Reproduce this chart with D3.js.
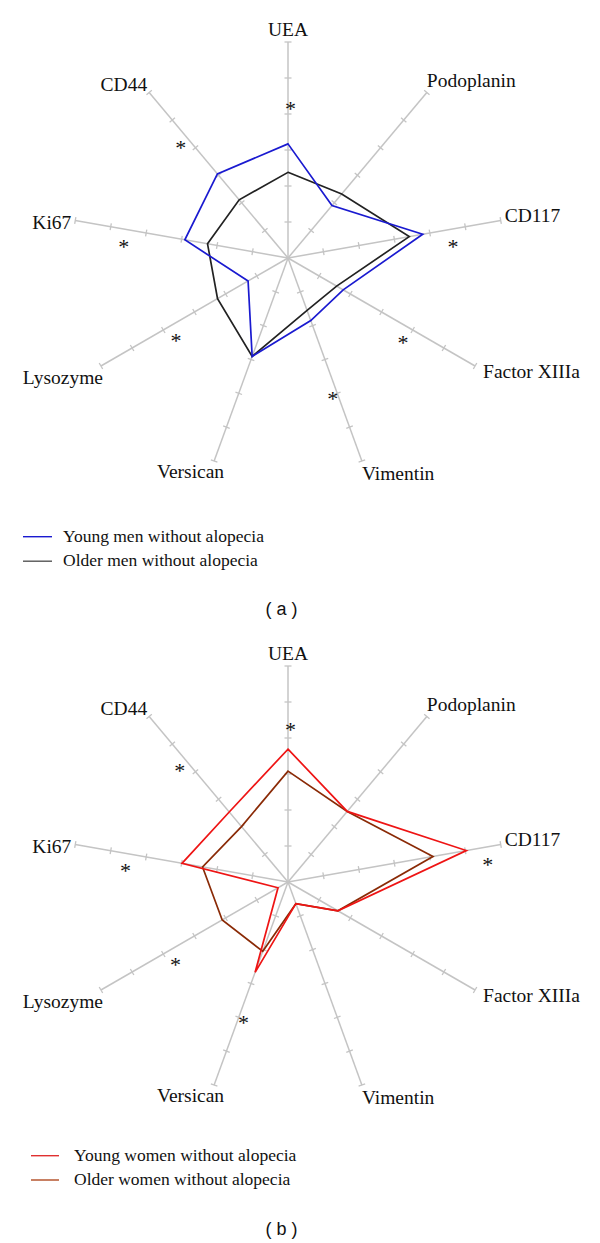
<!DOCTYPE html>
<html>
<head>
<meta charset="utf-8">
<script src="https://cdn.jsdelivr.net/npm/d3@7"></script>
<style>
  html, body { margin: 0; padding: 0; background: #fff; }
  svg { display: block; }
</style>
</head>
<body>
<svg id="chart" width="600" height="1243"></svg>
<script>
// ---- Data ----
const axesNames = ["UEA", "Podoplanin", "CD117", "Factor XIIIa", "Vimentin", "Versican", "Lysozyme", "Ki67", "CD44"];
const scaleTicks = [1, 2, 3, 4, 5];
const scaleMax = 6;

const youngMen   = [3.17, 1.90, 3.80, 1.77, 1.85, 2.91, 1.28, 2.91, 3.05];
const olderMen   = [2.38, 2.32, 3.42, 1.56, 1.55, 2.91, 2.26, 2.27, 2.11];
const youngWomen = [3.69, 2.56, 5.03, 1.60, 0.64, 2.67, 0.32, 2.99, 2.54];
const olderWomen = [3.08, 2.56, 4.09, 1.60, 0.64, 2.05, 2.11, 2.41, 2.01];

const starAxesA   = ["UEA", "CD44", "CD117", "Ki67", "Lysozyme", "Factor XIIIa", "Vimentin"];
const starValuesA = [4.27, 4.36, 4.59, 4.57, 3.77, 3.87, 3.97];
const starAxesB   = ["UEA", "CD44", "CD117", "Ki67", "Lysozyme", "Versican"];
const starValuesB = [4.36, 4.40, 5.57, 4.52, 3.79, 3.96];

const legendA = ["Young men without alopecia", "Older men without alopecia"];
const legendB = ["Young women without alopecia", "Older women without alopecia"];
const captions = ["( a )", "( b )"];

// ---- Drawing ----
const svg = d3.select("#chart");
const R = 216;
const rScale = d3.scaleLinear().domain([0, scaleMax]).range([0, R]);
const angle = d3.scaleLinear().domain([0, axesNames.length]).range([0, 2 * Math.PI]);
const serif = "'Liberation Serif', 'Times New Roman', serif";
const axisColor = "#c4c4c4";
const starSize = 22;

function pt(i, v) {
  const a = angle(i);
  return [Math.sin(a) * rScale(v), -Math.cos(a) * rScale(v)];
}

// label nudges relative to the axis end point
const labelLayout = {
  "UEA":          {anchor: "middle", dx: 0,  dy: -6},
  "Podoplanin":   {anchor: "start",  dx: 0,  dy: -6},
  "CD117":        {anchor: "start",  dx: 4,  dy: 1.5},
  "Factor XIIIa": {anchor: "start",  dx: 8,  dy: 11.5},
  "Vimentin":     {anchor: "start",  dx: 0,  dy: 19.3},
  "Versican":     {anchor: "end",    dx: 10, dy: 17.5},
  "Lysozyme":     {anchor: "end",    dx: 2,  dy: 18},
  "Ki67":         {anchor: "end",    dx: -4, dy: 8},
  "CD44":         {anchor: "end",    dx: -2, dy: -1.5}
};

function radar(cx, cy, series, colors, starAxes, starValues) {
  const g = svg.append("g").attr("transform", `translate(${cx},${cy})`);

  // axes
  axesNames.forEach((name, i) => {
    const a = angle(i);
    const [ex, ey] = pt(i, scaleMax);
    g.append("line").attr("x1", 0).attr("y1", 0).attr("x2", ex).attr("y2", ey)
      .attr("stroke", axisColor).attr("stroke-width", 1.5);
    const px = Math.cos(a), py = Math.sin(a);
    scaleTicks.concat([scaleMax]).forEach(t => {
      const [tx, ty] = pt(i, t);
      const h = 3.5;
      g.append("line")
        .attr("x1", tx - px * h).attr("y1", ty - py * h)
        .attr("x2", tx + px * h).attr("y2", ty + py * h)
        .attr("stroke", axisColor).attr("stroke-width", 1.3);
    });
    const L = labelLayout[name];
    g.append("text").attr("x", ex + L.dx).attr("y", ey + L.dy)
      .attr("text-anchor", L.anchor)
      .attr("font-family", serif).attr("font-size", 19.5).attr("fill", "#111")
      .text(name);
  });

  // series
  const line = d3.lineRadial()
    .angle((d, i) => angle(i))
    .radius(d => rScale(d))
    .curve(d3.curveLinearClosed);
  series.forEach((s, k) => {
    g.append("path").attr("d", line(s)).attr("fill", "none")
      .attr("stroke", colors[k]).attr("stroke-width", 1.7)
      .attr("stroke-linejoin", "miter");
  });

  // significance stars
  starAxes.forEach((name, j) => {
    const i = axesNames.indexOf(name);
    const a = angle(i);
    const [sx, sy] = pt(i, starValues[j]);
    const off = 13 * Math.sin(a);
    const x = sx + Math.cos(a) * off + (Math.abs(Math.sin(a)) < 0.1 ? 2.5 : 0);
    const y = sy + Math.sin(a) * off;
    g.append("text").attr("x", x).attr("y", y + 0.55 * starSize)
      .attr("text-anchor", "middle")
      .attr("font-family", serif).attr("font-size", starSize).attr("fill", "#111")
      .text("*");
  });
}

function legend(x1, x2, tx, y0, gap, labels, colors) {
  labels.forEach((lab, k) => {
    const y = y0 + k * gap;
    svg.append("line").attr("x1", x1).attr("x2", x2).attr("y1", y).attr("y2", y)
      .attr("stroke", colors[k]).attr("stroke-width", 1.4);
    svg.append("text").attr("x", tx).attr("y", y + 5)
      .attr("font-family", serif).attr("font-size", 17.5).attr("fill", "#111")
      .text(lab);
  });
}

const colorsA = ["#1a1ad0", "#222222"];
const colorsB = ["#ee1414", "#8a2a06"];

radar(288, 258, [olderMen, youngMen], [colorsA[1], colorsA[0]], starAxesA, starValuesA);
legend(23, 52, 63, 536.7, 24.5, legendA, ["#1a1ad0", "#555555"]);
svg.append("text").attr("x", 281.5).attr("y", 615).attr("text-anchor", "middle")
  .attr("font-family", "'Liberation Sans', Arial, sans-serif").attr("font-size", 18).attr("fill", "#111")
  .text(captions[0]);

radar(288, 882, [olderWomen, youngWomen], [colorsB[1], colorsB[0]], starAxesB, starValuesB);
legend(31, 59, 74, 1155.7, 24.3, legendB, ["#e03030", "#b04a20"]);
svg.append("text").attr("x", 281.5).attr("y", 1234.5).attr("text-anchor", "middle")
  .attr("font-family", "'Liberation Sans', Arial, sans-serif").attr("font-size", 18).attr("fill", "#111")
  .text(captions[1]);
</script>
</body>
</html>
